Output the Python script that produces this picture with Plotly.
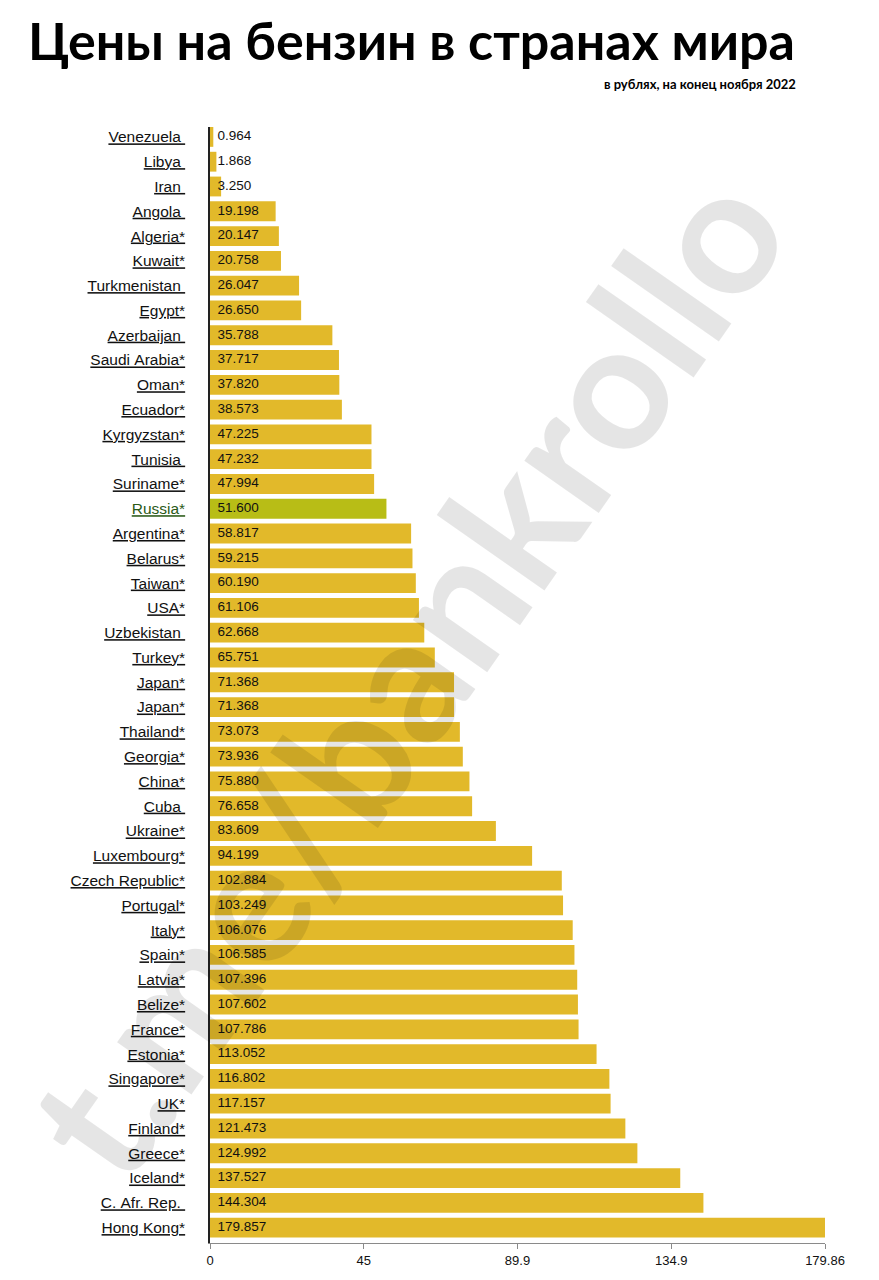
import plotly.graph_objects as go

countries = ["Venezuela ", "Libya ", "Iran ", "Angola ", "Algeria*", "Kuwait*", "Turkmenistan ",
             "Egypt*", "Azerbaijan ", "Saudi Arabia*", "Oman*", "Ecuador*", "Kyrgyzstan*", "Tunisia ",
             "Suriname*", "Russia*", "Argentina*", "Belarus*", "Taiwan*", "USA*", "Uzbekistan ",
             "Turkey*", "Japan*", "Japan*", "Thailand*", "Georgia*", "China*", "Cuba ", "Ukraine*",
             "Luxembourg*", "Czech Republic*", "Portugal*", "Italy*", "Spain*", "Latvia*", "Belize*",
             "France*", "Estonia*", "Singapore*", "UK*", "Finland*", "Greece*", "Iceland*",
             "C. Afr. Rep. ", "Hong Kong*"]
prices = [0.964, 1.868, 3.250, 19.198, 20.147, 20.758, 26.047, 26.650, 35.788, 37.717, 37.820,
          38.573, 47.225, 47.232, 47.994, 51.600, 58.817, 59.215, 60.190, 61.106, 62.668, 65.751,
          71.368, 71.368, 73.073, 73.936, 75.880, 76.658, 83.609, 94.199, 102.884, 103.249,
          106.076, 106.585, 107.396, 107.602, 107.786, 113.052, 116.802, 117.157, 121.473,
          124.992, 137.527, 144.304, 179.857]
x_ticks = [0, 44.965, 89.93, 134.9, 179.86]
x_tick_labels = ["0", "45", "89.9", "134.9", "179.86"]
highlight = "Russia*"

GOLD = "#E2B92A"
OLIVE = "#B8BD16"
pos = list(range(len(countries)))
colors = [OLIVE if c == highlight else GOLD for c in countries]

# page pixel -> paper coordinates (plot area spans x 210..825, y 127..1249 on the page)
TOP, BOTTOM = 127, 1249

def px(xp):
    return (xp - 210) / 615.0

def py(yp):
    return (BOTTOM - yp) / float(BOTTOM - TOP)

def tick_label(c):
    txt = c.replace(" ", "\u00a0")
    if c == highlight:
        return f"<span style='color:#2A5A17'><u>{txt}</u></span>"
    return f"<u>{txt}</u>"

fig = go.Figure()
fig.add_trace(go.Bar(
    y=pos, x=prices, orientation="h", width=0.8,
    marker=dict(color=colors, line=dict(width=0)),
    hoverinfo="skip", showlegend=False,
))
fig.add_trace(go.Scatter(
    y=pos, x=[0] * len(prices), mode="text",
    text=["\u00a0\u00a0" + f"{v:.3f}" for v in prices], textposition="middle right",
    textfont=dict(family="Liberation Sans, Arial, sans-serif", size=13.5, color="#111111"),
    hoverinfo="skip", showlegend=False, cliponaxis=False,
))

fig.update_layout(
    width=871, height=1272,
    margin=dict(l=202, r=54, t=TOP - 8, b=1280 - BOTTOM),
    paper_bgcolor="white", plot_bgcolor="white",
    xaxis=dict(range=[0, 179.86], tickvals=x_ticks, ticktext=x_tick_labels,
               showgrid=False, zeroline=False, showline=True, linecolor="#8a8a8a", linewidth=1,
               ticks="outside", ticklen=5, tickcolor="#8a8a8a",
               tickfont=dict(family="Liberation Sans, Arial, sans-serif", size=13, color="#111111")),
    yaxis=dict(range=[44.62, -0.4], tickvals=pos, ticktext=[tick_label(c) for c in countries],
               showgrid=False, zeroline=False, showline=True, linecolor="#222222", linewidth=1.5,
               ticks="", ticklabelstandoff=20,
               tickfont=dict(family="Liberation Sans, Arial, sans-serif", size=15.5, color="#111111")),
    annotations=[
        dict(text="<b>Цены на бензин в странах мира</b>", x=px(26), y=py(40),
             xref="paper", yref="paper", xanchor="left", yanchor="middle", showarrow=False,
             font=dict(family="Lato, sans-serif", size=52, color="#000000")),
        dict(text="<b>в рублях, на конец ноября 2022</b>", x=px(798), y=py(84),
             xref="paper", yref="paper", xanchor="right", yanchor="middle", showarrow=False,
             font=dict(family="Lato, sans-serif", size=13, color="#000000")),
        dict(text="<b>t.me/bankrollo</b>", x=px(403), y=py(675),
             xref="paper", yref="paper", xanchor="center", yanchor="middle", showarrow=False,
             textangle=-55,
             font=dict(family="Lato, sans-serif", size=177, color="rgba(0,0,0,0.1)")),
    ],
)

fig.write_html("out.html")
